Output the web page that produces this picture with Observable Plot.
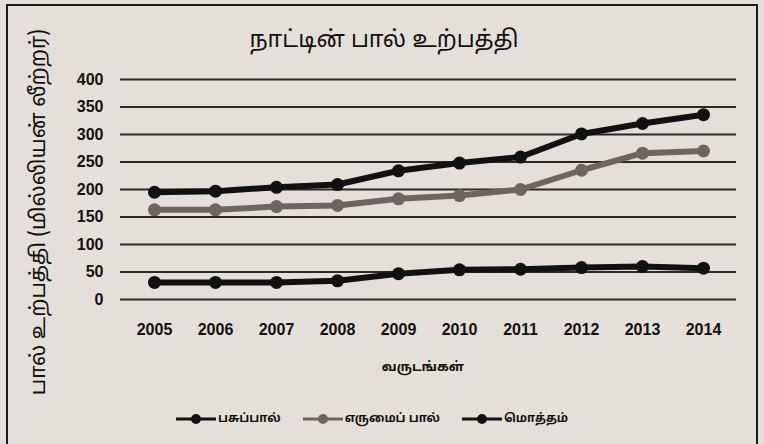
<!DOCTYPE html>
<html>
<head>
<meta charset="utf-8">
<script src="https://cdn.jsdelivr.net/npm/d3@7"></script>
<script src="https://cdn.jsdelivr.net/npm/@observablehq/plot@0.6"></script>
<style>
  html, body { margin: 0; padding: 0; background: #e4dfd8; }
  #wrap { position: relative; width: 764px; height: 444px; overflow: hidden; background: #e4dfd8;
          font-family: "Noto Sans Tamil", "Lohit Tamil", "Latha", "Noto Sans", sans-serif; color: #111; }
  #frame { position: absolute; left: 6px; top: 4px; width: 748px; height: 470px; border: 2px solid #1a1a1a; }
  #title { position: absolute; top: 27px; left: 0; width: 764px; text-align: center; font-size: 23px; transform: translateX(2px); }
  #chart { position: absolute; left: 0; top: 60px; }
  #ylabel { position: absolute; left: 40px; top: 212px; white-space: nowrap; font-size: 21px;
            transform: translate(-50%, -50%) rotate(-90deg); }
  #xlabel { position: absolute; top: 360px; left: 0; width: 846px; text-align: center; font-size: 13px; font-weight: bold; }
  #legend { position: absolute; top: 412px; left: 0; width: 764px; display: flex; justify-content: center; gap: 22px; font-size: 12px; font-weight: bold; transform: translateX(-10px); }
  .item { display: flex; align-items: center; gap: 2px; }
</style>
</head>
<body>
<div id="wrap">
  <div id="frame"></div>
  <div id="title"></div>
  <div id="chart"></div>
  <div id="ylabel"></div>
  <div id="xlabel"></div>
  <div id="legend"></div>
</div>
<script>
// ---- data ----
const titleText = "நாட்டின் பால் உற்பத்தி";
const yLabelText = "பால் உற்பத்தி (மில்லியன் லீற்றர்)";
const xLabelText = "வருடங்கள்";
const years = ["2005", "2006", "2007", "2008", "2009", "2010", "2011", "2012", "2013", "2014"];
const seriesNames = ["பசுப்பால்", "எருமைப் பால்", "மொத்தம்"];
const cowMilk     = [31, 31, 31, 34, 47, 54, 55, 58, 60, 57];
const buffaloMilk = [163, 163, 169, 171, 183, 189, 200, 235, 266, 270];
const totalMilk   = [195, 197, 204, 209, 234, 248, 259, 301, 320, 336];
const yTicks = [0, 50, 100, 150, 200, 250, 300, 350, 400];
const seriesColors = ["#111111", "#6e655f", "#111111"];

const seriesValues = [cowMilk, buffaloMilk, totalMilk];
const rows = [];
seriesNames.forEach((s, si) => years.forEach((y, i) => rows.push({series: s, year: y, value: seriesValues[si][i]})));

document.getElementById("title").textContent = titleText;
document.getElementById("ylabel").textContent = yLabelText;
document.getElementById("xlabel").textContent = xLabelText;

const numFont = "'Liberation Sans Narrow', 'Arial Narrow', 'Liberation Sans', sans-serif";

const marks = [
  Plot.gridY(yTicks, {stroke: "#2b2926", strokeOpacity: 1, strokeWidth: 2}),
  Plot.axisY(yTicks, {tickSize: 0, tickPadding: 17, fontSize: 16, fontWeight: "bold", fontFamily: numFont, label: null}),
  Plot.axisX({tickSize: 0, tickPadding: 24, fontSize: 16, fontWeight: "bold", fontFamily: numFont, label: null})
];
seriesNames.forEach((s, si) => {
  const d = rows.filter(r => r.series === s);
  marks.push(Plot.lineY(d, {x: "year", y: "value", stroke: seriesColors[si], strokeWidth: 6}));
  marks.push(Plot.dot(d, {x: "year", y: "value", fill: seriesColors[si], r: 6.5}));
});

const chart = Plot.plot({
  width: 764,
  height: 320,
  marginTop: 19,
  marginBottom: 81,
  marginLeft: 120,
  marginRight: 28,
  style: {background: "transparent", color: "#111"},
  x: {type: "point", domain: years, padding: 0.5},
  y: {domain: [0, 400]},
  marks
});
document.getElementById("chart").appendChild(chart);

// legend
const legend = document.getElementById("legend");
seriesNames.forEach((s, si) => {
  const item = document.createElement("div");
  item.className = "item";
  const sw = d3.create("svg").attr("width", 40).attr("height", 14);
  sw.append("line").attr("x1", 0).attr("x2", 40).attr("y1", 7).attr("y2", 7).attr("stroke", seriesColors[si]).attr("stroke-width", 3);
  sw.append("circle").attr("cx", 20).attr("cy", 7).attr("r", 5).attr("fill", seriesColors[si]);
  item.appendChild(sw.node());
  const t = document.createElement("span");
  t.textContent = s;
  item.appendChild(t);
  legend.appendChild(item);
});
</script>
</body>
</html>
